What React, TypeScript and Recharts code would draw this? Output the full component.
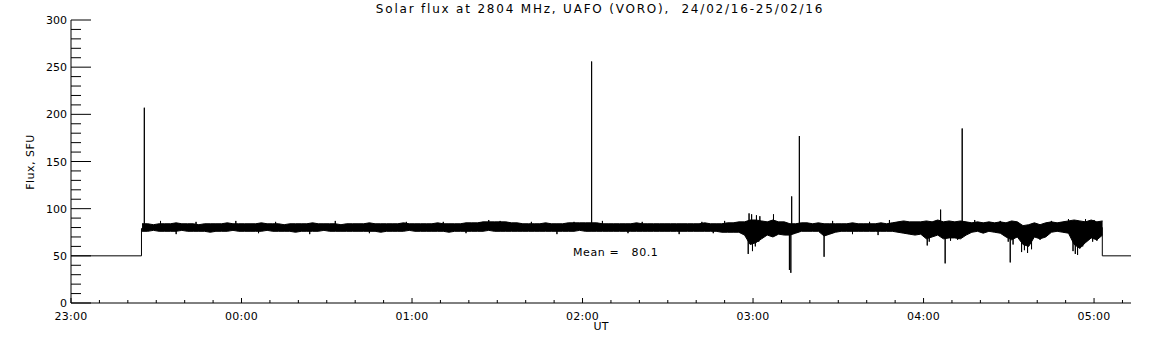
import { ComposedChart, Area, Line, XAxis, YAxis } from 'recharts';

// time axis is in minutes after 23:00 UT (24/02/16)
const bandStart = 25;
const bandStep = 2;

// upper / lower envelope of the noisy trace, one pair per 2 min bin
const bandHigh = [
  84, 84, 83, 84, 84, 84, 85, 84, 84, 84, 83, 84, 84, 84, 84, 85, 84, 84,
  84, 84, 84, 85, 84, 84, 84, 83, 84, 84, 84, 84, 85, 84, 84, 84, 84, 83, 84, 84,
  84, 84, 85, 84, 84, 84, 84, 84, 85, 84, 84, 84, 84, 84, 85, 84, 84, 84, 84, 85,
  85, 85, 86, 86, 86, 86, 86, 85, 85, 84, 84, 84, 84, 85, 84, 84, 84, 85, 85, 85,
  85, 85, 85, 84, 84, 84, 84, 84, 84, 85, 84, 84, 84, 84, 84, 84, 84, 84, 84, 84, 84, 85, 84, 84, 84, 85, 85, 86,
  86, 88, 88, 87, 86, 88, 86, 86, 84, 84, 85, 85, 84, 85,
  84, 84, 84, 84, 84, 85, 84, 84, 84, 84, 85, 84, 85, 86, 87, 86, 86, 86,
  87, 86, 88, 86, 87, 86, 87, 86, 85, 86, 85, 86, 85, 86, 85, 87,
  86, 82, 83, 85, 83, 85, 86, 85, 86, 87, 88, 87, 86, 88, 86, 87,
];
const bandLow = [
  76, 76, 77, 76, 76, 76, 76, 77, 76, 76, 76, 76, 75, 76, 76, 76, 77, 76,
  76, 76, 76, 76, 77, 76, 76, 76, 76, 75, 76, 76, 76, 76, 77, 76, 76, 76, 76, 76,
  76, 76, 76, 76, 75, 76, 76, 76, 76, 77, 76, 76, 76, 76, 76, 76, 75, 76, 76, 76,
  76, 76, 76, 77, 76, 76, 76, 76, 76, 76, 76, 76, 76, 76, 76, 76, 76, 76, 76, 77,
  76, 76, 76, 76, 76, 76, 76, 76, 76, 76, 76, 76, 76, 76, 76, 76, 76, 76, 76, 76, 76, 76, 76, 76, 75, 75, 75, 75,
  72, 62, 64, 68, 72, 70, 73, 72, 72, 74, 76, 76, 76, 76,
  71, 73, 75, 76, 76, 76, 76, 76, 76, 76, 76, 76, 76, 75, 74, 73, 72, 73,
  68, 70, 72, 68, 69, 69, 68, 72, 75, 76, 74, 76, 75, 74, 70, 67,
  70, 62, 60, 70, 68, 70, 75, 76, 75, 74, 62, 58, 64, 69, 67, 72,
];

// single-sample spikes and drop-outs sticking out of the band
const spikeTimes = [
  25.8, 31.5, 37, 44, 58, 66, 72, 84, 93, 105, 118, 131, 139, 147, 151, 162, 171, 177,
  183.2, 187, 196, 201, 214, 222, 226, 230, 238.3, 238.6, 239.5, 239.8, 240.8, 241.2, 242.0, 242.4,
  247.2, 252.8, 253.3, 253.6, 256.3, 265.0, 268, 275, 281, 284, 288,
  301.3, 302, 306.0, 307.6, 309.5, 312, 313.6, 318, 327, 329.8, 330.5, 331.5, 334.5, 335.5, 336.6,
  338, 341, 345, 351, 352.6, 353.4, 354.2, 355, 356, 357, 359.5, 360, 361,
];
const spikeValues = [
  207, 87, 73, 86, 87, 74, 86, 73, 87, 74, 86, 86, 74, 88, 87, 86, 73, 86,
  256, 87, 74, 86, 73, 86, 74, 87, 52, 95, 94, 55, 60, 93, 65, 92,
  94, 35, 32, 113, 177, 49, 87, 73, 86, 72, 88,
  61, 65, 99, 42, 66, 67, 185, 88, 87, 65, 43, 62, 54, 56, 53,
  57, 67, 87, 89, 55, 52, 51, 58, 60, 89, 65, 88, 66,
];
const spikeBase = 80;

// receiver off / calibration level before and after the record
const offTimes = [0, 24.8, 24.8, 362.9, 362.9, 373];
const offValues = [50, 50, 79, 80, 50, 50];

const xTicks = [0, 10, 20, 30, 40, 50, 60, 70, 80, 90, 100, 110, 120, 130, 140, 150, 160, 170, 180, 190, 200, 210, 220, 230, 240, 250, 260, 270, 280, 290, 300, 310, 320, 330, 340, 350, 360, 370];
const hourLabels = ['23:00', '00:00', '01:00', '02:00', '03:00', '04:00', '05:00'];
const yTicks = [0, 10, 20, 30, 40, 50, 60, 70, 80, 90, 100, 110, 120, 130, 140, 150, 160, 170, 180, 190, 200, 210, 220, 230, 240, 250, 260, 270, 280, 290, 300];

const bandData = bandHigh.map((hi, i) => ({ t: bandStart + i * bandStep, range: [bandLow[i], hi] }));
const spikeData = spikeTimes.flatMap((t, i) => [
  { t, v: spikeBase },
  { t, v: spikeValues[i] },
  { t, v: spikeBase },
]);
const offData = offTimes.map((t, i) => ({ t, v: offValues[i] }));

const font = '"DejaVu Sans", sans-serif';

const BottomTick = (p: any) => {
  const t = p.payload.value;
  const major = t % 60 === 0;
  return (
    <g>
      <line x1={p.x} x2={p.x} y1={p.y} y2={p.y - (major ? 5 : 3)} stroke="#000" />
      {major && (
        <text x={p.x} y={p.y + 17} textAnchor="middle" fontSize={11} fontFamily={font} fill="#000" letterSpacing={0.3}>
          {hourLabels[t / 60]}
        </text>
      )}
    </g>
  );
};

const TopTick = (p: any) => {
  const major = p.payload.value % 60 === 0;
  return <line x1={p.x} x2={p.x} y1={p.y} y2={p.y + (major ? 5 : 3)} stroke="#000" />;
};

const LeftTick = (p: any) => {
  const v = p.payload.value;
  const major = v % 50 === 0;
  return (
    <g>
      <line x1={p.x} x2={p.x + (major ? 20 : 10)} y1={p.y} y2={p.y} stroke="#000" />
      {major && (
        <text x={p.x - 4} y={p.y + 4} textAnchor="end" fontSize={11} fontFamily={font} fill="#000">
          {v}
        </text>
      )}
    </g>
  );
};

const RightTick = (p: any) => {
  const major = p.payload.value % 50 === 0;
  return <line x1={p.x} x2={p.x - (major ? 20 : 10)} y1={p.y} y2={p.y} stroke="#000" />;
};

const textStyle: React.CSSProperties = {
  position: 'absolute',
  fontFamily: font,
  fontSize: 11,
  color: '#000',
  whiteSpace: 'pre',
  lineHeight: '12px',
};

export default function App() {
  return (
    <div style={{ position: 'absolute', left: 0, top: 0, width: 1152, height: 345, background: '#fff' }}>
      <ComposedChart width={1152} height={345} margin={{ top: 20, right: 21, bottom: 12, left: 31 }}>
        <XAxis
          xAxisId="b"
          type="number"
          dataKey="t"
          domain={[0, 373]}
          allowDataOverflow
          ticks={xTicks}
          interval={0}
          height={30}
          tickSize={0}
          tickMargin={0}
          tickLine={false}
          axisLine={{ stroke: '#000' }}
          tick={<BottomTick />}
        />
        <XAxis
          xAxisId="top"
          orientation="top"
          type="number"
          dataKey="t"
          domain={[0, 373]}
          allowDataOverflow
          ticks={xTicks}
          interval={0}
          height={0}
          tickSize={0}
          tickMargin={0}
          tickLine={false}
          axisLine={{ stroke: '#000' }}
          tick={<TopTick />}
        />
        <YAxis
          yAxisId="l"
          type="number"
          domain={[0, 300]}
          allowDataOverflow
          ticks={yTicks}
          interval={0}
          width={40}
          tickSize={0}
          tickMargin={0}
          tickLine={false}
          axisLine={{ stroke: '#000' }}
          tick={<LeftTick />}
        />
        <YAxis
          yAxisId="r"
          orientation="right"
          type="number"
          domain={[0, 300]}
          allowDataOverflow
          ticks={yTicks}
          interval={0}
          width={0}
          tickSize={0}
          tickMargin={0}
          tickLine={false}
          axisLine={{ stroke: '#000' }}
          tick={<RightTick />}
        />
        <Line
          xAxisId="b"
          yAxisId="l"
          data={offData}
          dataKey="v"
          type="linear"
          stroke="#000"
          strokeWidth={1}
          dot={false}
          activeDot={false}
          isAnimationActive={false}
        />
        <Area
          xAxisId="b"
          yAxisId="l"
          data={bandData}
          dataKey="range"
          type="linear"
          stroke="#000"
          strokeWidth={1}
          fill="#000"
          fillOpacity={1}
          dot={false}
          activeDot={false}
          isAnimationActive={false}
        />
        <Line
          xAxisId="b"
          yAxisId="l"
          data={spikeData}
          dataKey="v"
          type="linear"
          stroke="#000"
          strokeWidth={1}
          dot={false}
          activeDot={false}
          isAnimationActive={false}
        />
      </ComposedChart>
      <div style={{ ...textStyle, left: 0, width: 1152, top: 3, fontSize: 12, letterSpacing: 1.8, textAlign: 'center', paddingLeft: 48, boxSizing: 'border-box' }}>
        {'Solar flux at 2804 MHz, UAFO (VORO),  24/02/16-25/02/16'}
      </div>
      <div style={{ ...textStyle, left: 31, top: 162, letterSpacing: 0.5, transform: 'translate(-50%, -50%) rotate(-90deg)' }}>Flux, SFU</div>
      <div style={{ ...textStyle, left: 601, top: 321, transform: 'translateX(-50%)' }}>UT</div>
      <div style={{ ...textStyle, left: 573, top: 247, letterSpacing: 0.6 }}>{'Mean =   80.1'}</div>
    </div>
  );
}
